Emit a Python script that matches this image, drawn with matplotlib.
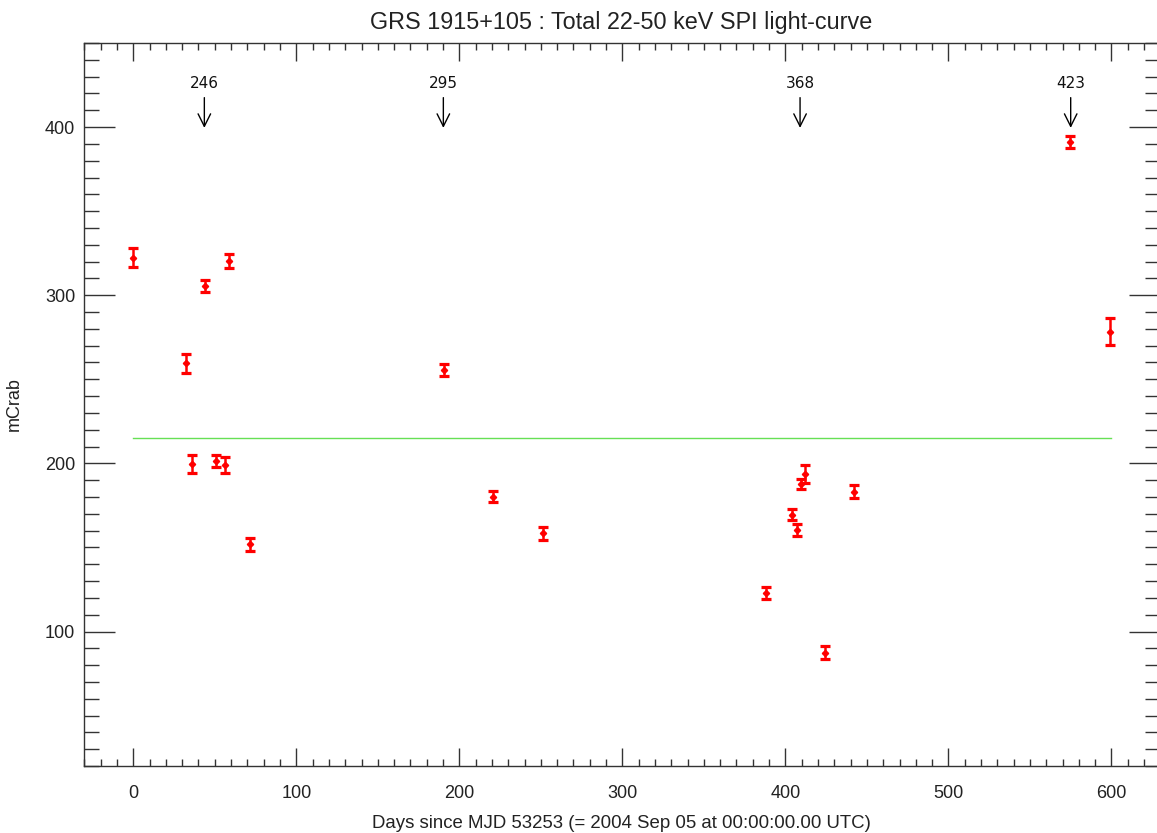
import matplotlib
matplotlib.use("Agg")
import matplotlib.pyplot as plt
from matplotlib.ticker import MultipleLocator

days = [0.0, 32.1, 36.0, 43.7, 50.7, 56.4, 58.9, 71.8, 190.4, 220.7, 251.1,
        388.3, 403.9, 407.4, 409.8, 412.0, 424.3, 442.3, 574.6, 599.4]
flux = [322.4, 259.4, 199.6, 305.6, 201.4, 199.0, 320.4, 151.9, 255.5, 180.2, 158.4,
        123.0, 169.5, 160.4, 187.8, 193.9, 87.3, 183.2, 391.1, 278.4]
err = [5.5, 5.8, 5.6, 3.7, 3.6, 4.5, 4.4, 3.8, 3.6, 3.2, 4.0,
       3.4, 3.4, 3.6, 2.8, 5.4, 3.8, 3.9, 3.8, 8.2]

mean_level = 215.3
mean_span = [0.0, 600.0]

revs = ["246", "295", "368", "423"]
rev_days = [43.6, 190.2, 409.0, 575.0]

plt.rcParams['font.family'] = ['Liberation Sans', 'DejaVu Sans']
fig = plt.figure(figsize=(11.57, 8.33), dpi=100)
ax = fig.add_axes([0.0722, 0.0804, 0.93, 0.868])

ax.plot(mean_span, [mean_level, mean_level], color='#66e055', lw=1.0, zorder=1)
ax.errorbar(days, flux, yerr=err, fmt='D', color='red', ms=3.2, elinewidth=1.8,
            capsize=3.8, capthick=2.3, zorder=3)

for lab, d in zip(revs, rev_days):
    ax.annotate("", xy=(d, 399.5), xytext=(d, 417.5),
                arrowprops=dict(arrowstyle='->,head_length=0.9,head_width=0.45',
                                color='black', lw=1.0, shrinkA=0, shrinkB=0))
    ax.text(d, 426, lab, ha='center', va='center', fontsize=11,
            family=['DejaVu Sans'], color='#111111')

ax.set_xlim(-30.5, 629.5)
ax.set_ylim(20, 450)
ax.xaxis.set_major_locator(MultipleLocator(100))
ax.xaxis.set_minor_locator(MultipleLocator(10))
ax.yaxis.set_major_locator(MultipleLocator(100))
ax.yaxis.set_minor_locator(MultipleLocator(10))

ax.tick_params(axis='x', which='major', direction='in', length=13, width=1.0,
               top=True, bottom=True, color='#333333', labelsize=13, pad=14,
               labelcolor='#222222')
ax.tick_params(axis='x', which='minor', direction='in', length=5, width=1.0,
               top=True, bottom=True, color='#333333')
ax.tick_params(axis='y', which='major', direction='in', length=22, width=1.0,
               left=True, right=True, color='#333333', labelsize=13, pad=6,
               labelcolor='#222222')
ax.tick_params(axis='y', which='minor', direction='in', length=11, width=1.0,
               left=True, right=True, color='#333333')
for s in ax.spines.values():
    s.set_color('#333333')
    s.set_linewidth(1.0)

ax.set_xlabel("Days since MJD 53253 (= 2004 Sep 05 at 00:00:00.00 UTC)", fontsize=13.4,
              labelpad=9, color='#222222')
ax.set_ylabel("mCrab", fontsize=13, labelpad=16, color='#222222')
ax.set_title("GRS 1915+105 : Total 22-50 keV SPI light-curve", fontsize=16.8, pad=10,
             color='#222222')

fig.savefig("out.png", dpi=100)
